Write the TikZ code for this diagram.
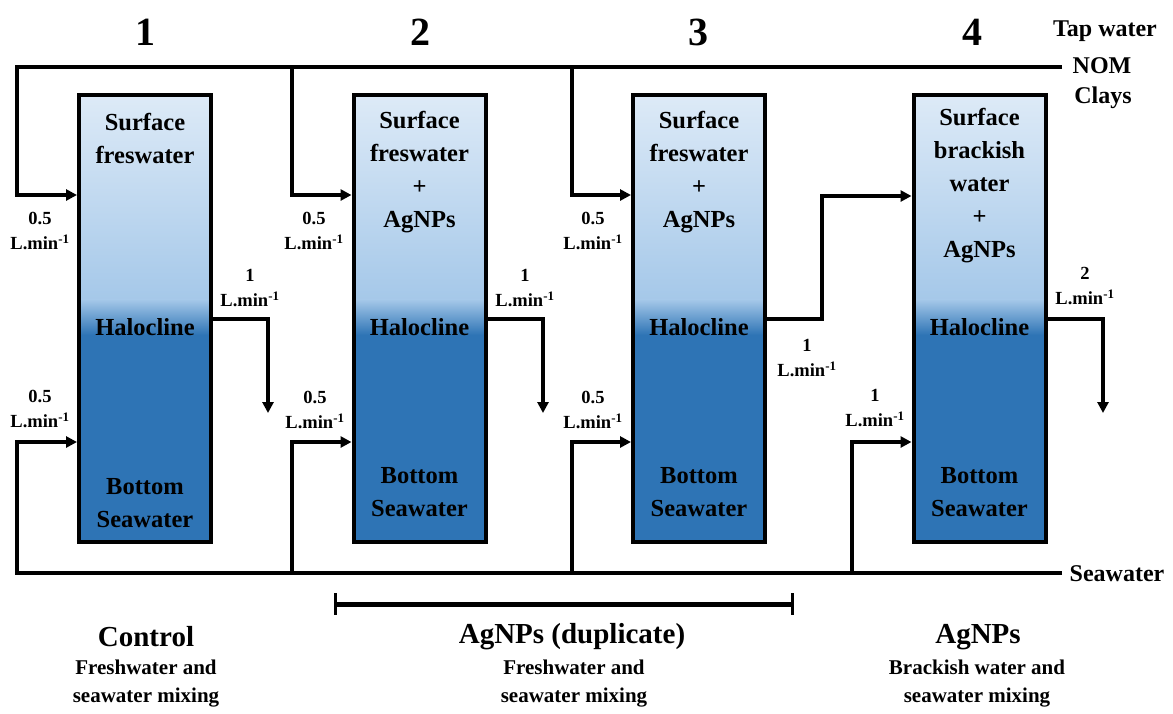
\documentclass[tikz,border=0pt]{standalone}
\usepackage{fontspec}
\setmainfont{Liberation Serif}
\usetikzlibrary{arrows.meta,calc}
\definecolor{topblue}{HTML}{DDEAF7}
\definecolor{midblue}{HTML}{A5C8E9}
\definecolor{deepblue}{HTML}{2E74B5}
\begin{document}
\begin{tikzpicture}[x=1pt,y=-1pt,
  tank/.style={draw, line width=4pt, minimum width=132pt, minimum height=447pt, inner sep=0pt,
    path picture={
      \fill[deepblue] (path picture bounding box.north west) rectangle (path picture bounding box.south east);
      \shade[top color=topblue,bottom color=midblue] (path picture bounding box.north west) rectangle ($(path picture bounding box.north east)+(0,205)$);
      \shade[top color=midblue,bottom color=deepblue] ($(path picture bounding box.north west)+(0,204.5)$) rectangle ($(path picture bounding box.north east)+(0,240)$);
    }},
  pipe/.style={line width=3.5pt},
  flow/.style={pipe, -{Triangle[length=11pt,width=11pt]}},
  intank/.style={font=\fontsize{24.5}{33}\selectfont\bfseries, align=center, inner sep=0pt},
  rate/.style={font=\fontsize{18.5}{25}\selectfont\bfseries, align=center, inner sep=0pt},
  num/.style={font=\fontsize{40}{40}\selectfont\bfseries, inner sep=0pt},
  side/.style={font=\fontsize{24}{30}\selectfont\bfseries, inner sep=0pt},
  ttl/.style={font=\fontsize{29}{29}\selectfont\bfseries, inner sep=0pt},
  sub/.style={font=\fontsize{21}{28}\selectfont\bfseries, align=center, inner sep=0pt}
]
\useasboundingbox (0,0) rectangle (1173,713);

% tanks
\node[tank] (t1) at (145,318.5) {};
\node[tank] (t2) at (419.5,318.5) {};
\node[tank] (t3) at (699,318.5) {};
\node[tank] (t4) at (979.5,318.5) {};

% tank texts
\node[intank] (s1) at (145,138) {Surface\\freswater};
\node[intank] (h1) at (145,327) {Halocline};
\node[intank] (b1) at (145,503) {Bottom\\Seawater};
\node[intank] (s2) at (419.5,172) {Surface\\freswater\\+\\AgNPs};
\node[intank] (h2) at (419.5,327) {Halocline};
\node[intank] (b2) at (419.5,492) {Bottom\\Seawater};
\node[intank] (s3) at (699,172) {Surface\\freswater\\+\\AgNPs};
\node[intank] (h3) at (699,327) {Halocline};
\node[intank] (b3) at (699,492) {Bottom\\Seawater};
\node[intank] (s4) at (979.5,186) {Surface\\brackish\\water\\+\\AgNPs};
\node[intank] (h4) at (979.5,327) {Halocline};
\node[intank] (b4) at (979.5,492) {Bottom\\Seawater};

% numbers
\node[num] (n1) at (145,32) {1};
\node[num] (n2) at (420,32) {2};
\node[num] (n3) at (698,32) {3};
\node[num] (n4) at (972,32) {4};

% side labels
\node[side] (tap) at (1105,31) {Tap water};
\node[side] (nom) at (1102,66) {NOM};
\node[side] (clay) at (1103,98) {Clays};
\node[side] (sea) at (1117,574) {Seawater};

% junction coordinates
\coordinate (tapEnd) at (1062,67);
\coordinate (seaEnd) at (1062,573);
\coordinate (j2) at (292,67);
\coordinate (j3) at (572,67);
\coordinate (k2) at (292,573);
\coordinate (k3) at (572,573);
\coordinate (k4) at (852,573);
\coordinate (o1) at (268,413);
\coordinate (o2) at (543,413);
\coordinate (o4) at (1103,413);

% top inflows
\draw[flow] (tapEnd) -| (17,195) -- (t1.west |- 0,195);
\draw[flow] (j2) |- (t2.west |- 0,195);
\draw[flow] (j3) |- (t3.west |- 0,195);
% bottom inflows
\draw[flow] (seaEnd) -| (17,442) -- (t1.west |- 0,442);
\draw[flow] (k2) |- (t2.west |- 0,442);
\draw[flow] (k3) |- (t3.west |- 0,442);
\draw[flow] (k4) |- (t4.west |- 0,442);
% outflows
\draw[flow] (t1.east |- 0,319) -| (o1);
\draw[flow] (t2.east |- 0,319) -| (o2);
\draw[flow] (t3.east |- 0,319) -- (822,319) |- (t4.west |- 0,196);
\draw[flow] (t4.east |- 0,319) -| (o4);

% rate labels
\node[rate] (r1a) at (40,231) {0.5\\L.min\textsuperscript{-1}};
\node[rate] (r2a) at (314,231) {0.5\\L.min\textsuperscript{-1}};
\node[rate] (r3a) at (593,231) {0.5\\L.min\textsuperscript{-1}};
\node[rate] (r1b) at (40,409) {0.5\\L.min\textsuperscript{-1}};
\node[rate] (r2b) at (315,410) {0.5\\L.min\textsuperscript{-1}};
\node[rate] (r3b) at (593,410) {0.5\\L.min\textsuperscript{-1}};
\node[rate] (r4b) at (875,408) {1\\L.min\textsuperscript{-1}};
\node[rate] (q1) at (250,288) {1\\L.min\textsuperscript{-1}};
\node[rate] (q2) at (525,288) {1\\L.min\textsuperscript{-1}};
\node[rate] (q3) at (807,358) {1\\L.min\textsuperscript{-1}};
\node[rate] (q4) at (1085,286) {2\\L.min\textsuperscript{-1}};

% bracket bar
\coordinate (barL) at (335,604);
\coordinate (barR) at (792,604);
\draw[line width=5pt] (barL) -- (barR);
\draw[line width=3pt] ($(barL)+(0,-11)$) -- ($(barL)+(0,11)$);
\draw[line width=3pt] ($(barR)+(0,-11)$) -- ($(barR)+(0,11)$);

% bottom titles
\node[ttl] (c1) at (146,637) {Control};
\node[sub] (c1s) at (146,684) {Freshwater and\\seawater mixing};
\node[ttl] (c2) at (572,637) {AgNPs (duplicate)};
\node[sub] (c2s) at (574,684) {Freshwater and\\seawater mixing};
\node[ttl] (c3) at (978,637) {AgNPs};
\node[sub] (c3s) at (977,684) {Brackish water and\\seawater mixing};
\end{tikzpicture}
\end{document}
